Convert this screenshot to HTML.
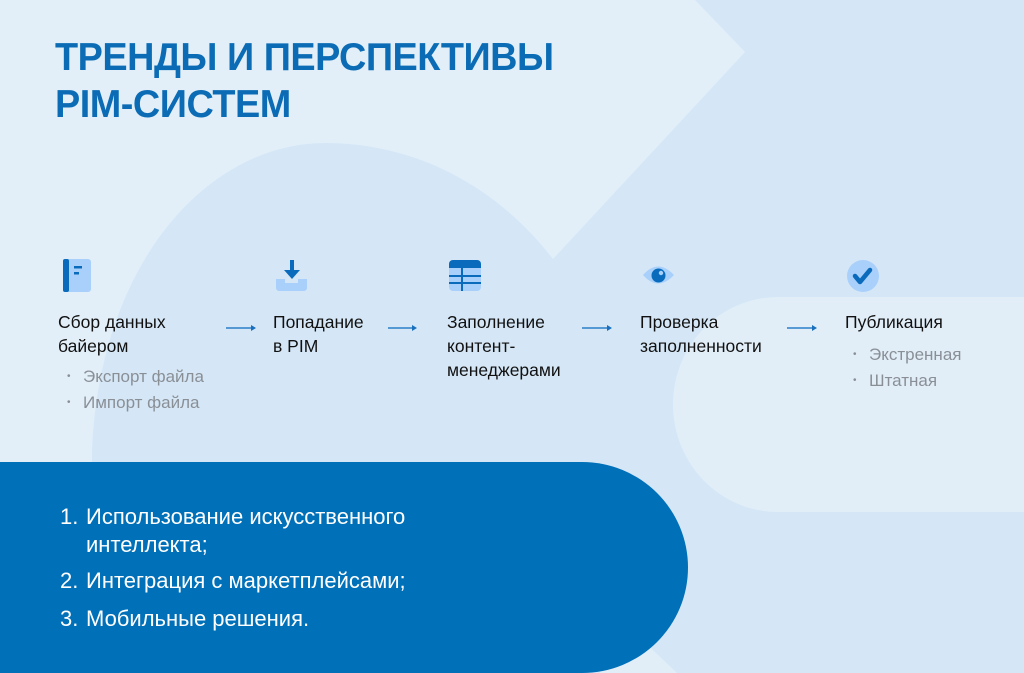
<!DOCTYPE html>
<html><head><meta charset="utf-8"><style>
html,body{margin:0;padding:0;}
body{width:1024px;height:673px;position:relative;overflow:hidden;background:#e2eff9;font-family:"Liberation Sans",sans-serif;}
svg.bg{position:absolute;left:0;top:0;}
.t{position:absolute;white-space:nowrap;}
.title{left:55px;color:#0b6cb5;font-weight:bold;font-size:39px;line-height:47px;top:34px;transform:scaleX(0.97);transform-origin:0 0;letter-spacing:-0.5px;}
.step{font-size:17.5px;line-height:24px;color:#111;top:310px;}
.sub{font-size:17px;line-height:26px;color:#8a8f96;}
.sub span{display:inline-block;width:16px;font-size:10px;vertical-align:3px;}
.list{left:60px;top:503px;color:#fff;font-size:22px;line-height:28px;}
.list div{position:relative;padding-left:26px;}
.list b{position:absolute;left:0;font-weight:normal;}
</style></head><body>
<svg class="bg" width="1024" height="673" viewBox="0 0 1024 673">
<path d="M92 673 L92 450 C100 260 210 143 325 143 C420 143 500 190 553 259 L745 52 L695 0 L1024 0 L1024 673 Z" fill="#d5e7f6"/>
<path d="M778 297 L1024 297 L1024 512 L778 512 A105 107.5 0 0 1 778 297 Z" fill="#e1eef8"/>
<polygon points="600,600 677,673 600,673" fill="#e1eef8"/>
<path d="M0 462 L582 462 A106 105.5 0 0 1 582 673 L0 673 Z" fill="#0070b8"/>
<rect x="63" y="259" width="28" height="33" rx="3" fill="#a9d0fb"/>
<rect x="63" y="259" width="6" height="33" rx="2" fill="#0a6bbd"/>
<rect x="74" y="266" width="8" height="2.5" fill="#0a6bbd"/><rect x="74" y="272" width="5" height="2.5" fill="#0a6bbd"/>
<path d="M276 279 h9 v4 h13 v-4 h9 v9 a3 3 0 0 1 -3 3 h-25 a3 3 0 0 1 -3 -3 z" fill="#a9d0fb"/>
<rect x="290" y="260" width="4" height="11" fill="#0a6bbd"/><polygon points="284,270 300,270 292,279" fill="#0a6bbd"/>
<rect x="449" y="260" width="32" height="31" rx="4" fill="#a9d0fb"/>
<path d="M449 264 a4 4 0 0 1 4 -4 h24 a4 4 0 0 1 4 4 v4 h-32 z" fill="#0a6bbd"/>
<rect x="449" y="275" width="32" height="2" fill="#0a6bbd"/><rect x="449" y="282" width="32" height="2" fill="#0a6bbd"/>
<rect x="461" y="268" width="2" height="23" fill="#0a6bbd"/>
<path d="M643 275 Q658 258 674 275 Q658 292 643 275 Z" fill="#a9d0fb"/>
<circle cx="658.5" cy="275.5" r="7" fill="#0a6bbd"/><circle cx="661" cy="273" r="2.2" fill="#a9d0fb"/>
<circle cx="863" cy="276" r="16" fill="#a9d0fb"/>
<path d="M855 276 l5 6 l10 -12" stroke="#0a6bbd" stroke-width="4.5" fill="none" stroke-linecap="round" stroke-linejoin="round"/>
<g stroke="#2a7fc9" stroke-width="1.5"><line x1="226" y1="328" x2="252" y2="328"/><line x1="388" y1="328" x2="413" y2="328"/><line x1="582" y1="328" x2="608" y2="328"/><line x1="787" y1="328" x2="813" y2="328"/></g>
<g fill="#1a70bd"><polygon points="251,325 256,328 251,331"/><polygon points="412,325 417,328 412,331"/><polygon points="607,325 612,328 607,331"/><polygon points="812,325 817,328 812,331"/></g>
</svg>
<div class="t title">ТРЕНДЫ И ПЕРСПЕКТИВЫ<br>PIM-СИСТЕМ</div>
<div class="t step" style="left:58px">Сбор данных<br>байером</div>
<div class="t step" style="left:273px">Попадание<br>в PIM</div>
<div class="t step" style="left:447px">Заполнение<br>контент-<br>менеджерами</div>
<div class="t step" style="left:640px">Проверка<br>заполненности</div>
<div class="t step" style="left:845px">Публикация</div>
<div class="t sub" style="left:67px;top:364px"><span>•</span>Экспорт файла<br><span>•</span>Импорт файла</div>
<div class="t sub" style="left:853px;top:342px"><span>•</span>Экстренная<br><span>•</span>Штатная</div>
<div class="t list">
<div><b>1.</b>Использование искусственного<br>интеллекта;</div>
<div style="margin-top:8px"><b>2.</b>Интеграция с маркетплейсами;</div>
<div style="margin-top:10px"><b>3.</b>Мобильные решения.</div></div>
</body></html>
